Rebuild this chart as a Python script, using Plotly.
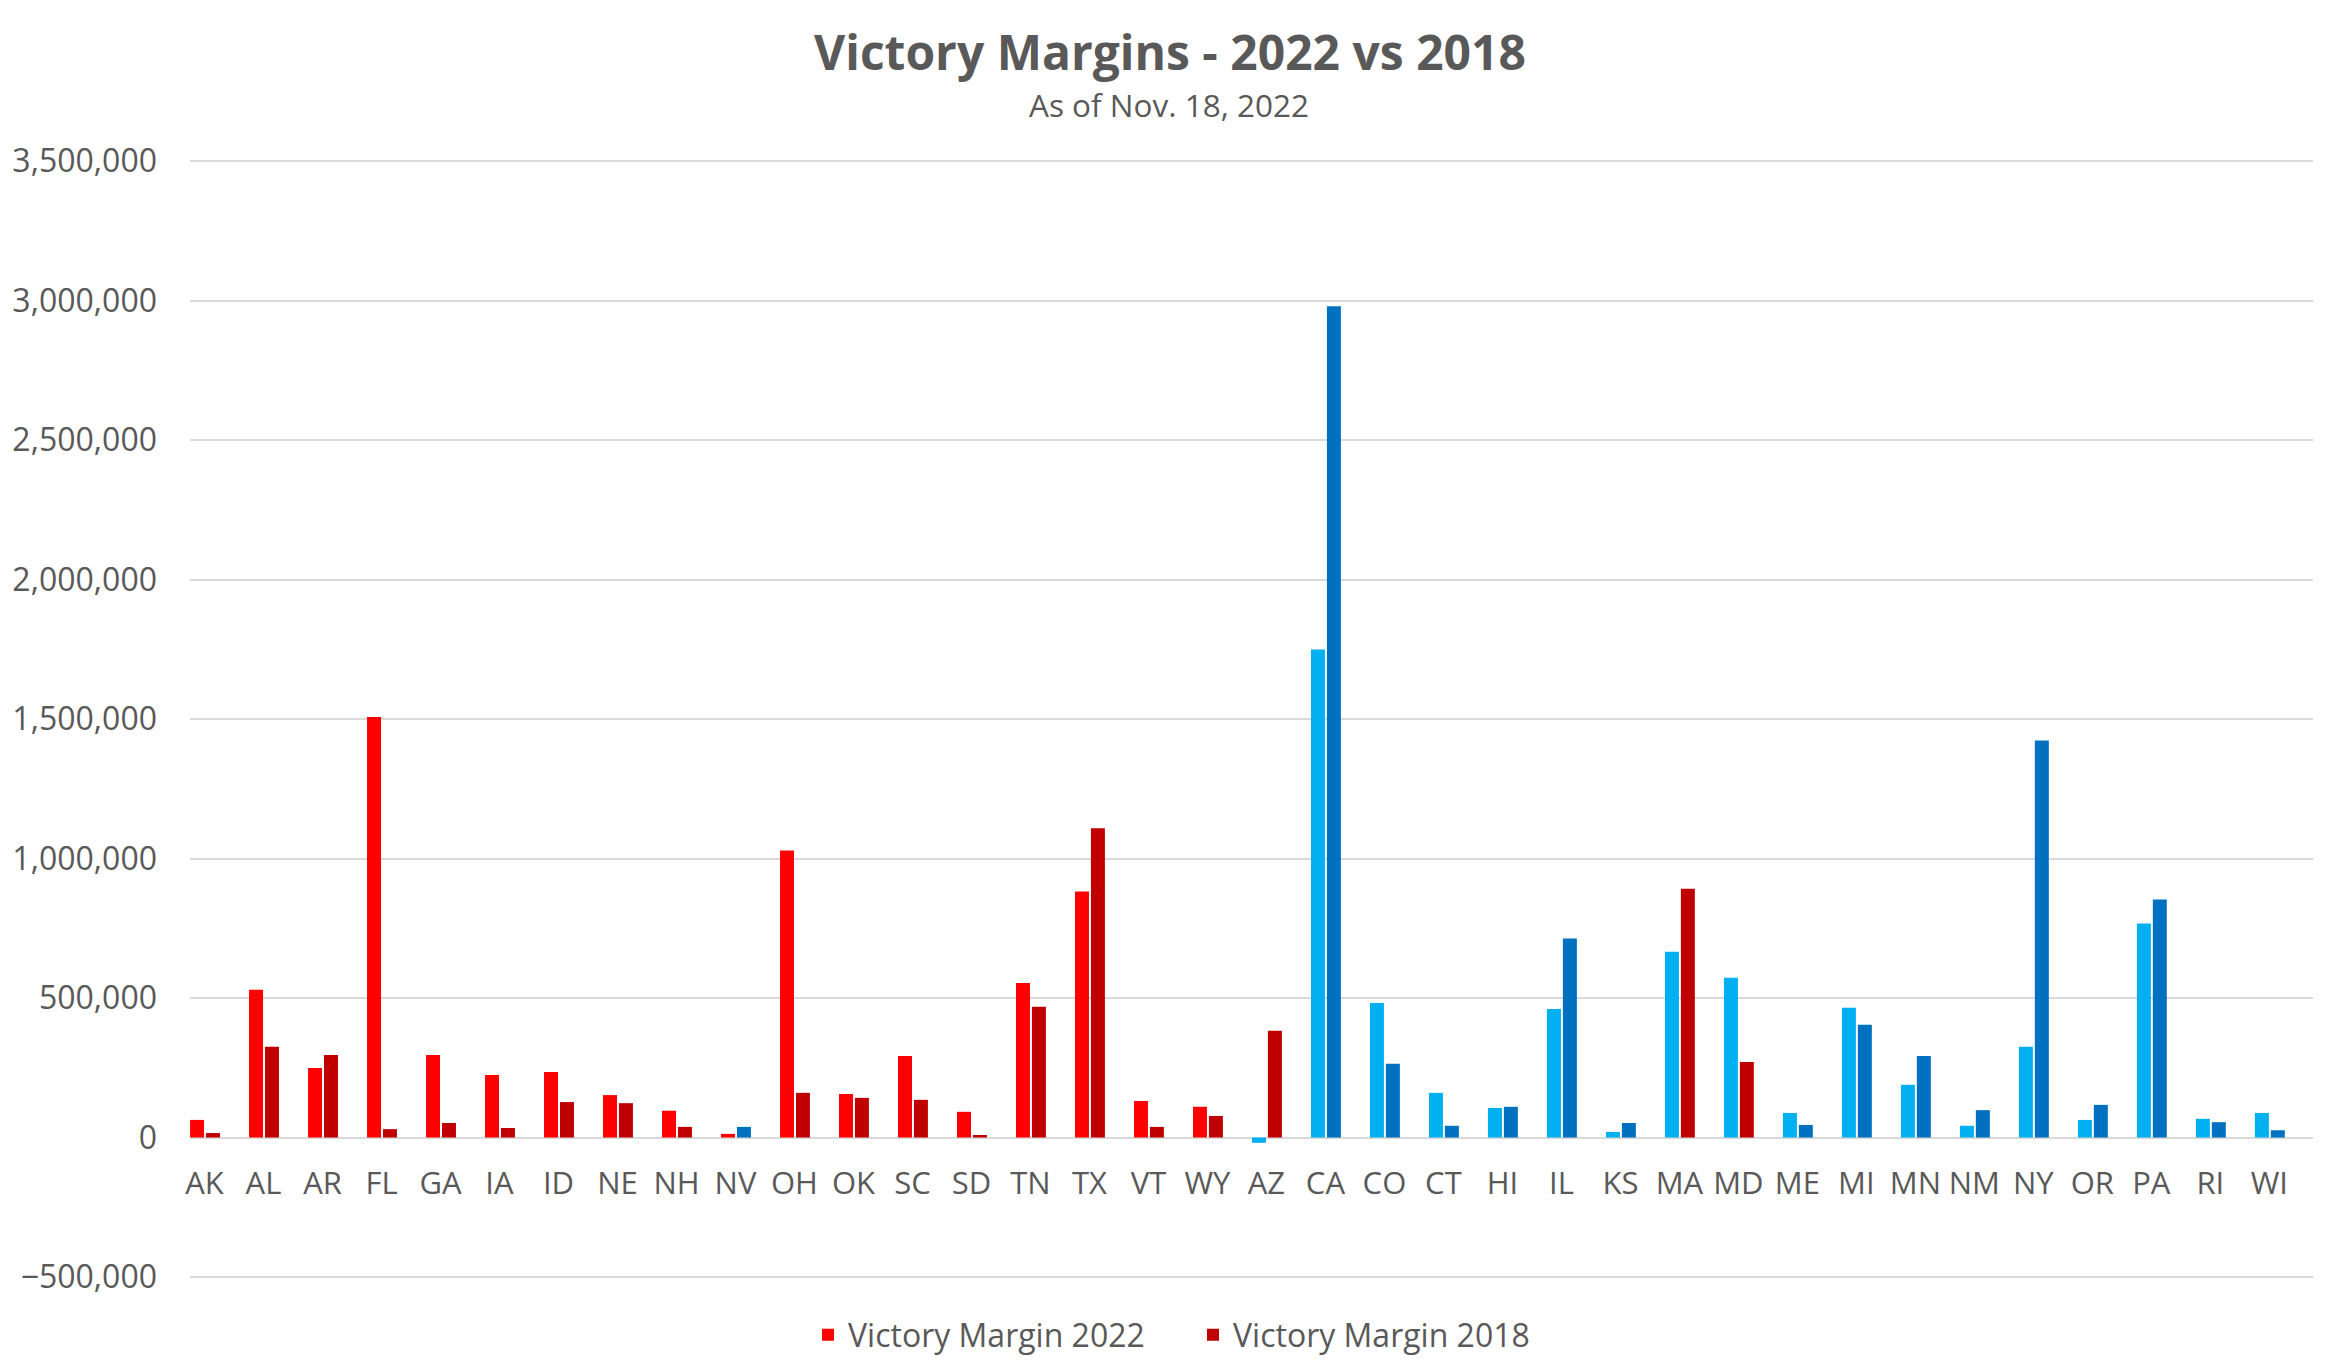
import plotly.graph_objects as go

states = ["AK", "AL", "AR", "FL", "GA", "IA", "ID", "NE", "NH", "NV", "OH", "OK",
          "SC", "SD", "TN", "TX", "VT", "WY", "AZ", "CA", "CO", "CT", "HI", "IL",
          "KS", "MA", "MD", "ME", "MI", "MN", "NM", "NY", "OR", "PA", "RI", "WI"]

margin_2022 = [63000, 530000, 249000, 1507000, 296000, 224000, 235000, 152000, 96000, 13000,
               1029000, 156000, 292000, 92000, 554000, 882000, 131000, 110000, -19000,
               1749000, 482000, 160000, 106000, 461000, 20000, 666000, 573000, 88000,
               465000, 189000, 42000, 325000, 63000, 767000, 67000, 88000]

margin_2018 = [16000, 325000, 296000, 30000, 52000, 34000, 127000, 123000, 38000, 38000,
               160000, 142000, 135000, 9000, 469000, 1108000, 38000, 77000, 383000,
               2979000, 264000, 42000, 110000, 713000, 52000, 892000, 271000, 45000,
               404000, 292000, 98000, 1423000, 117000, 853000, 55000, 26000]

winner_2022 = ["R"] * 18 + ["D"] * 18
winner_2018 = ["R"] * 9 + ["D"] + ["R"] * 9 + ["D"] * 6 + ["R", "R"] + ["D"] * 9

colors_2022 = {"R": "#FF0000", "D": "#00B0F0"}
colors_2018 = {"R": "#C00000", "D": "#0070C0"}

FONT = "Open Sans"
GREY = "#595959"

# page body has an 8px default margin, so the figure is sized to fit inside it
W, H = 2320, 1356

fig = go.Figure()
fig.add_trace(go.Bar(
    x=states, y=margin_2022, name="Victory Margin 2022",
    marker=dict(color=[colors_2022[w] for w in winner_2022], line=dict(width=0)),
    offset=-0.245, width=0.237,
))
fig.add_trace(go.Bar(
    x=states, y=margin_2018, name="Victory Margin 2018",
    marker=dict(color=[colors_2018[w] for w in winner_2018], line=dict(width=0)),
    offset=0.025, width=0.237,
))

fig.update_layout(
    width=W, height=H,
    paper_bgcolor="white", plot_bgcolor="white",
    margin=dict(l=182, r=15, t=151, b=85, autoexpand=False),
    font=dict(family=FONT, color=GREY, size=32),
    barmode="overlay",
    title=dict(
        text="<b>Victory Margins - 2022 vs 2018</b>",
        font=dict(family=FONT, size=48, color=GREY),
        x=1162 / W, xanchor="center", xref="container",
        y=1 - 45 / H, yanchor="middle", yref="container",
    ),
    annotations=[dict(
        text="As of Nov. 18, 2022", showarrow=False,
        xref="paper", yref="paper", x=0.4611, y=(1271 - 96) / 1120,
        xanchor="center", yanchor="middle",
        font=dict(family=FONT, size=31.5, color=GREY),
    )],
    showlegend=True,
    legend=dict(
        orientation="h", xref="container", yref="container",
        x=1185 / W, xanchor="center", y=1 - 1327 / H, yanchor="middle",
        font=dict(family=FONT, size=32, color=GREY),
        entrywidth=340, traceorder="normal",
    ),
)

pad = 2 * 4000000 / 1116
fig.update_yaxes(
    range=[-500000 - pad, 3500000 + pad], dtick=500000, tick0=0, tickformat=",",
    showgrid=True, gridcolor="#D9D9D9", gridwidth=2,
    zeroline=True, zerolinecolor="#D9D9D9", zerolinewidth=2,
    showline=False, ticks="", ticklabelstandoff=32, automargin=False,
    tickfont=dict(family=FONT, size=32, color=GREY),
)
fig.update_xaxes(
    type="category", range=[-0.246, 35.74],
    anchor="free", position=(500000 + pad) / (4000000 + 2 * pad),
    showgrid=False, showline=False, zeroline=False, ticks="",
    ticklabelstandoff=24, automargin=False,
    tickfont=dict(family=FONT, size=31, color=GREY),
)

fig.write_html("out.html")
